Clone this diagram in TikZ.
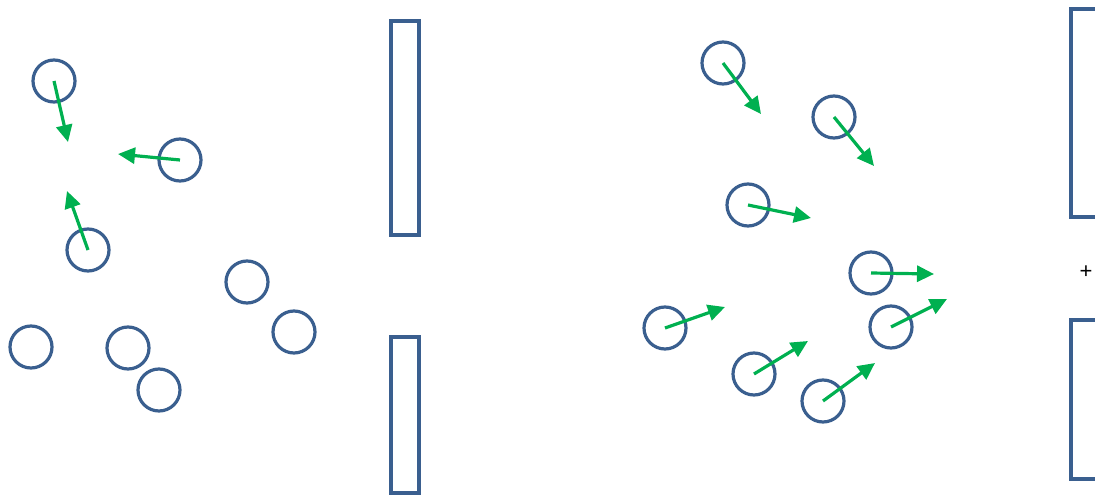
\documentclass[tikz,border=0pt]{standalone}
\usepackage{fontspec}
\setmainfont{Liberation Sans}
\usetikzlibrary{arrows.meta}
\definecolor{wallblue}{HTML}{3A5F8F}
\definecolor{arrowgreen}{HTML}{00B050}
\tikzset{
  particle/.style={circle, draw=wallblue, line width=3.2pt, minimum size=42pt, inner sep=0pt},
  wall/.style={draw=wallblue, line width=3.2pt},
  velocity/.style={draw=arrowgreen, line width=3.2pt, -{Triangle[length=17pt,width=16pt]}, shorten >=0pt}
}
\begin{document}
\begin{tikzpicture}[x=1pt,y=-1pt]
\useasboundingbox (0,0) rectangle (1095,495);
% walls
\draw[wall] (391,21) rectangle (419,235);
\draw[wall] (391,337) rectangle (419,493);
\draw[wall] (1100,9) -- (1071,9) -- (1071,217) -- (1100,217);
\draw[wall] (1100,320) -- (1071,320) -- (1071,479) -- (1100,479);
\node[inner sep=0pt] (plus) at (1086,272) {\fontsize{22}{22}\selectfont +};
% left particles
\node[particle] (l1) at (54,81) {};
\node[particle] (l2) at (180,160) {};
\node[particle] (l3) at (88,250) {};
\node[particle] (l4) at (247,282) {};
\node[particle] (l5) at (294,332) {};
\node[particle] (l6) at (31,347) {};
\node[particle] (l7) at (128,348) {};
\node[particle] (l8) at (159,390) {};
\coordinate (tl1) at (68,142);
\coordinate (tl2) at (118,154);
\coordinate (tl3) at (67,191);
\draw[velocity] (l1.center) -- (tl1);
\draw[velocity] (l2.center) -- (tl2);
\draw[velocity] (l3.center) -- (tl3);
% right particles
\node[particle] (r1) at (723,63) {};
\node[particle] (r2) at (834,117) {};
\node[particle] (r3) at (748,205) {};
\node[particle] (r4) at (871,273) {};
\node[particle] (r5) at (665,328) {};
\node[particle] (r6) at (891,327) {};
\node[particle] (r7) at (754,374) {};
\node[particle] (r8) at (823,401) {};
\coordinate (tr1) at (761,114);
\coordinate (tr2) at (874,166);
\coordinate (tr3) at (811,218);
\coordinate (tr4) at (934,274);
\coordinate (tr5) at (725,307);
\coordinate (tr6) at (947,299);
\coordinate (tr7) at (808,341);
\coordinate (tr8) at (875,363);
\draw[velocity] (r1.center) -- (tr1);
\draw[velocity] (r2.center) -- (tr2);
\draw[velocity] (r3.center) -- (tr3);
\draw[velocity] (r4.center) -- (tr4);
\draw[velocity] (r5.center) -- (tr5);
\draw[velocity] (r6.center) -- (tr6);
\draw[velocity] (r7.center) -- (tr7);
\draw[velocity] (r8.center) -- (tr8);
\end{tikzpicture}
\end{document}
